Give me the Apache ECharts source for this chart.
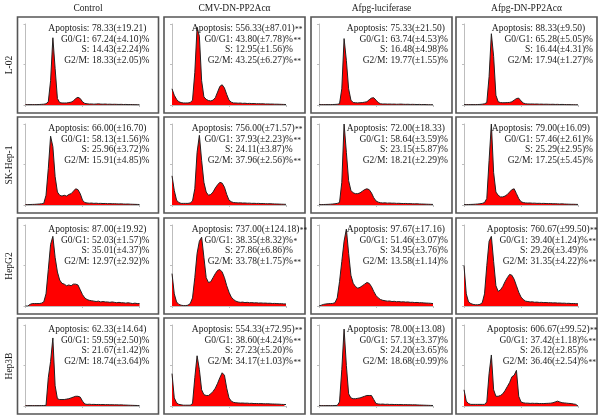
<!DOCTYPE html>
<html><head><meta charset="utf-8">
<script src="https://cdn.jsdelivr.net/npm/echarts@6/dist/echarts.min.js"></script>
<style>html,body{margin:0;padding:0;background:#fff}#c{width:600px;height:418px}</style>
</head><body><div id="c"></div>
<script>
// ---------- DATA ----------
const columnTitles = ['Control', 'CMV-DN-PP2Acα', 'Afpg-luciferase', 'Afpg-DN-PP2Acα'];
const rowTitles = ['L-02', 'SK-Hep-1', 'HepG2', 'Hep3B'];
const statLabels = ['Apoptosis:', 'G0/G1:', 'S:', 'G2/M:'];
const bins = ['0','20','40','60','80','100','120','140','160','180','200','220','240','260','280','300','320','340','360','380','400','420','440','460','480','500','520','540','560','580','600','620','640','660','680','700','720','740','760','780','800','820','840','860','880','900','920','940','960','980','1000'];

// DNA histograms (cell counts, % of panel height), one per panel
const histL02Control = [0.5,0.5,0.5,0.5,0.5,0.5,0.6,0.8,1,1.5, 4,30,83,45,8,3,2.5,2.5,2.5,3, 3.5,5,8,9.5,8,4,2,1.5,1.2,1.3, 1,1.2,1.4,1.1,1,1.2,0.9,1,0.8,0.9, 0.8,0.7,0.8,0.6,0.7,0.5,0.6,0.5,0.4,0.4, 0.3];
const histL02CMV = [20,12,7,4,3,2.5,2.5,2.5,3,6, 40,96,85,30,10,7,5.5,5,6,9, 16,23,25,21,13,6,3.5,2.5,2.5,2.2, 2.4,2,2.2,1.8,2,1.7,1.8,1.5,1.6,1.4, 1.5,1.2,1.3,1.1,1.2,1,1,0.9,0.8,0.7, 0.6];
const histL02Luc = [0.5,0.5,0.5,0.5,0.5,0.5,0.6,0.7,0.9,1.5, 20,82,55,20,6,3,2.8,2.6,2.8,3, 3.5,4,6.5,8.5,9,6,3,1.5,1.2,1.3, 1.1,1.2,1,1.1,0.9,1,1.1,0.9,0.8,0.9, 0.7,0.8,0.7,0.6,0.7,0.5,0.6,0.5,0.4,0.4, 0.3];
const histL02DN = [0.5,0.5,0.5,0.5,0.5,0.5,0.6,0.7,1,1.5, 3,35,88,60,12,4,3,2.8,2.8,3, 3.2,4,6,8,8.5,5,2.5,1.5,1.3,1.2, 1.3,1.1,1.2,1,1.1,0.9,1,0.9,0.8,0.9, 0.7,0.8,0.6,0.7,0.6,0.5,0.5,0.4,0.4,0.3, 0.3];
const histSKControl = [0.5,0.5,0.6,0.7,0.8,1,1.2,1.5,2,12, 45,85,72,35,16,12,11,12,11,13, 14,17,20,19,14,6,3,2.5,2.2,2.4, 2,2.2,1.9,2,1.8,1.9,1.6,1.7,1.5,1.6, 1.4,1.3,1.4,1.2,1.1,1.2,1,0.9,0.8,0.7, 0.6];
const histSKCMV = [36,18,6,3,2,2,2,2,2.5,5, 20,65,86,55,28,16,12,13,16,21, 25,28,27,22,13,6,4,3,2.8,2.6, 2.7,2.4,2.5,2.2,2.3,2,2.1,1.9,2,1.7, 1.8,1.6,1.5,1.6,1.4,1.3,1.2,1.1,1,0.9, 0.8];
const histSKLuc = [0.5,0.5,0.6,0.7,0.8,1,1.2,1.5,2,3, 28,100,65,30,18,15,14,14,15,17, 19,20,19,15,9,5,3.5,2.8,2.5,2.7, 2.3,2.5,2.2,2.3,2,2.1,1.9,1.8,1.9,1.6, 1.7,1.5,1.4,1.5,1.3,1.2,1.1,1,0.9,0.8, 0.7];
const histSKDN = [0.5,0.5,0.6,0.7,0.8,1,1.2,1.5,2,3, 8,55,100,40,16,12,10,10,11,13, 16,19,20,14,8,4,3,2.6,2.4,2.5, 2.2,2.3,2,2.1,1.9,2,1.8,1.7,1.8,1.5, 1.6,1.4,1.3,1.4,1.2,1.1,1,0.9,0.9,0.8, 0.7];
const histG2Control = [0,0,2,3,3,3,3,3.5,5,15, 45,76,86,60,42,32,28,27,25,26, 25,27,27,26,20,14,10,8,7,6.5, 6,5.5,6,5,5.5,5,5,4.5,5,4.5, 4,4.5,4,4,3.5,4,3.5,3,3.5,3, 3];
const histG2CMV = [40,15,5,2,1,0.5,0.5,1,3,10, 35,65,80,85,60,35,29,30,35,40, 44,45,42,35,25,17,11,8,6,5, 4.5,4.8,4.2,4.5,4,4.2,3.8,4,3.6,3.8, 3.5,3.6,3.3,3.4,3.1,3.2,3,2.8,2.9,2.6, 2.5];
const histG2Luc = [0,1,2,2.5,2.8,3,3.2,4,10,30, 55,80,95,65,38,28,24,22,23,25, 27,29,28,24,18,13,10,8,7,6.5, 6,6.2,5.5,5.8,5.2,5.5,5,5.2,4.8,5, 4.5,4.6,4.2,4.4,4,4.1,3.8,3.6,3.5,3.3, 3];
const histG2DN = [50,15,5,3,2,1.5,1.5,2,4,15, 50,80,86,55,25,18,20,24,30,35, 39,38,33,25,17,11,8,6,5.5,5, 5.2,4.6,4.8,4.4,4.5,4.2,4.3,4,4.1,3.8, 3.9,3.6,3.7,3.4,3.5,3.2,3.3,3,3.1,2.9, 2.7];
const hist3BControl = [0.5,0.5,0.5,0.5,0.5,0.5,0.5,0.6,0.6,0.8, 35,55,84,25,9,8,8,8,8.5,9, 10,11,12,12,11,6,2.5,2,2.2,1.9, 2,1.8,1.9,1.7,1.8,1.6,1.7,1.5,1.6,1.4, 1.5,1.3,1.4,1.2,1.1,1,0.9,0.8,0.7,0.6, 0.5];
const hist3BCMV = [40,10,4,2,1.5,1,1,1,1,3, 35,62,45,20,14,13,13,15,18,22, 28,35,41,38,22,10,6,4.5,4,3.8, 3.6,3.7,3.4,3.5,3.2,3.3,3,3.1,2.9,3, 2.8,2.7,2.8,2.6,2.5,2.4,2.3,2.2,2,1.9, 1.8];
const hist3BLuc = [0.5,0.5,0.5,0.5,0.5,0.5,0.5,0.6,0.7,5, 45,95,50,15,10,9,9,9.5,10,11, 12,13,13,13,8,3,2.5,2.2,2.4,2, 2.2,1.9,2,1.8,1.9,1.7,1.8,1.6,1.7,1.5, 1.6,1.4,1.5,1.3,1.2,1.1,1,0.9,0.8,0.7, 0.6];
const hist3BDN = [20,6,3,2,2,2,2,2,2,2, 5,40,63,20,12,12,13,15,19,24, 29,36,38,44,12,5,4,3.5,3.5,3.2, 3.4,3.2,3.3,3,3.1,3,3.2,3.3,3.5,4, 5,6,5,4,3.8,3.5,3.2,3,2.5,2, 0];

// statistics text per panel (Apoptosis, G0/G1, S, G2/M)
const statsL02 = [
  ['78.33(±19.21)', '67.24(±4.10)%', '14.43(±2.24)%', '18.33(±2.05)%'],
  ['556.33(±87.01)**', '43.80(±7.78)%**', '12.95(±1.56)%', '43.25(±6.27)%**'],
  ['75.33(±21.50)', '63.74(±4.53)%', '16.48(±4.98)%', '19.77(±1.55)%'],
  ['88.33(±9.50)', '65.28(±5.05)%', '16.44(±4.31)%', '17.94(±1.27)%']
];
const statsSK = [
  ['66.00(±16.70)', '58.13(±1.56)%', '25.96(±3.72)%', '15.91(±4.85)%'],
  ['756.00(±71.57)**', '37.93(±2.23)%**', '24.11(±3.87)%', '37.96(±2.56)%**'],
  ['72.00(±18.33)', '58.64(±3.59)%', '23.15(±5.87)%', '18.21(±2.29)%'],
  ['79.00(±16.09)', '57.46(±2.61)%', '25.29(±2.95)%', '17.25(±5.45)%']
];
const statsG2 = [
  ['87.00(±19.92)', '52.03(±1.57)%', '35.01(±4.37)%', '12.97(±2.92)%'],
  ['737.00(±124.18)**', '38.35(±8.32)%*', '27.86(±6.86)%', '33.78(±1.75)%**'],
  ['97.67(±17.16)', '51.46(±3.07)%', '34.95(±3.76)%', '13.58(±1.14)%'],
  ['760.67(±99.50)**', '39.40(±1.24)%**', '29.26(±3.49)%', '31.35(±4.22)%**']
];
const stats3B = [
  ['62.33(±14.64)', '59.59(±2.50)%', '21.67(±1.42)%', '18.74(±3.64)%'],
  ['554.33(±72.95)**', '38.60(±4.24)%**', '27.23(±5.20)%', '34.17(±1.03)%**'],
  ['78.00(±13.08)', '57.13(±3.37)%', '24.20(±3.65)%', '18.68(±0.99)%'],
  ['606.67(±99.52)**', '37.42(±1.18)%**', '26.12(±2.85)%', '36.46(±2.54)%**']
];

const histograms = [
  [histL02Control, histL02CMV, histL02Luc, histL02DN],
  [histSKControl, histSKCMV, histSKLuc, histSKDN],
  [histG2Control, histG2CMV, histG2Luc, histG2DN],
  [hist3BControl, hist3BCMV, hist3BLuc, hist3BDN]
];
const stats = [statsL02, statsSK, statsG2, stats3B];

// ---------- LAYOUT ----------
const colX = [17.5, 164, 311, 456];
const rowY = [17, 117, 218, 318];
const panelW = 141, panelH = 96;
const colonOffset = [[72,72,72,72],[69,69,69,69],[77,77,77,77],[77,77,72,72]]; // [col][row]
const FONT = '"Liberation Serif","Times New Roman",serif';

function richValue(s) {
  const m = s.match(/^(.*?)(\*+)$/);
  if (!m) return '{v|' + s + '}';
  return '{v|' + m[1] + '}{s|' + m[2] + '}';
}
const richStyles = {
  v: {font: '9.5px ' + FONT, fill: '#1a1a1a', color: '#1a1a1a'},
  s: {font: '7.5px ' + FONT, fill: '#1a1a1a', color: '#1a1a1a', padding: [3, 0, 0, 0.5]}
};

const grids = [], xAxes = [], yAxes = [], series = [], graphics = [];
let k = 0;
for (let r = 0; r < 4; r++) {
  for (let c = 0; c < 4; c++) {
    const px = colX[c], py = rowY[r];
    grids.push({left: px + 8, top: py + 7, width: 114, height: 81});
    xAxes.push({
      type: 'category', gridIndex: k, data: bins, boundaryGap: false,
      axisLine: {lineStyle: {color: '#bdbdbd', width: 1}},
      axisTick: {show: true, interval: 24, length: 2, lineStyle: {color: '#bdbdbd'}},
      axisLabel: {show: false}, splitLine: {show: false}
    });
    yAxes.push({
      type: 'value', gridIndex: k, min: 0, max: 100, interval: 50,
      axisLine: {show: true, lineStyle: {color: '#bdbdbd', width: 1}},
      axisTick: {show: true, length: 2, lineStyle: {color: '#bdbdbd'}},
      axisLabel: {show: false}, splitLine: {show: false}
    });
    series.push({
      type: 'line', xAxisIndex: k, yAxisIndex: k, data: histograms[r][c],
      symbol: 'none', silent: true,
      lineStyle: {color: '#222222', width: 1},
      areaStyle: {color: '#ff0000', opacity: 1}
    });
    graphics.push({type: 'rect', shape: {x: px, y: py, width: panelW, height: panelH},
      style: {fill: null, stroke: '#555555', lineWidth: 1.6}, z: 10});
    const cx = px + colonOffset[c][r];
    for (let i = 0; i < 4; i++) {
      const ty = py + 11.8 + i * 10.5;
      graphics.push({type: 'text', x: cx, y: ty, z: 20,
        style: {text: statLabels[i], font: '9.5px ' + FONT, fill: '#1a1a1a', align: 'right', verticalAlign: 'middle', textAlign: 'right', textVerticalAlign: 'middle'}});
      graphics.push({type: 'text', x: cx + 2.5, y: ty, z: 20,
        style: {text: richValue(stats[r][c][i]), rich: richStyles, font: '9.5px ' + FONT, fill: '#1a1a1a', align: 'left', verticalAlign: 'middle', textAlign: 'left', textVerticalAlign: 'middle'}});
    }
    k++;
  }
}
for (let c = 0; c < 4; c++) {
  graphics.push({type: 'text', x: colX[c] + panelW / 2, y: 8.5,
    style: {text: columnTitles[c], font: '9.5px ' + FONT, fill: '#1a1a1a', align: 'center', verticalAlign: 'middle', textAlign: 'center', textVerticalAlign: 'middle'}});
}
for (let r = 0; r < 4; r++) {
  graphics.push({type: 'text', x: 9.5, y: rowY[r] + panelH / 2, rotation: Math.PI / 2,
    style: {text: rowTitles[r], font: '9.5px ' + FONT, fill: '#1a1a1a', align: 'center', verticalAlign: 'middle', textAlign: 'center', textVerticalAlign: 'middle'}});
}

const chart = echarts.init(document.getElementById('c'), null, {renderer: 'canvas'});
chart.setOption({
  animation: false,
  backgroundColor: '#ffffff',
  grid: grids, xAxis: xAxes, yAxis: yAxes, series: series,
  graphic: {elements: graphics}
});
</script></body></html>
